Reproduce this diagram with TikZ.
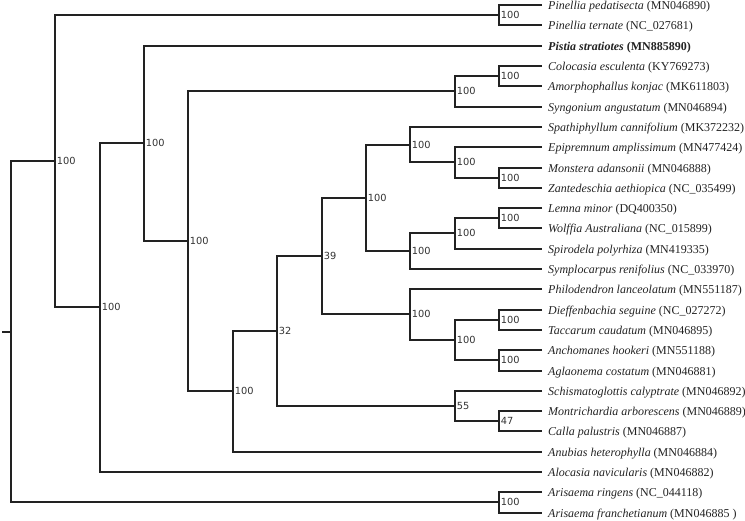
\documentclass[tikz,border=0pt]{standalone}
\usepackage{fontspec}
\setmainfont{Liberation Serif}
\newfontfamily\bootfont{DejaVu Sans}
\usetikzlibrary{positioning}
\definecolor{ink}{HTML}{222222}
\definecolor{graphite}{HTML}{333333}

\begin{document}
\begin{tikzpicture}[
  x=1pt, y=-1pt,
  branch/.style={draw=ink, line width=2pt},
  taxon/.style={anchor=west, inner xsep=6pt, inner ysep=0pt, text=ink,
                text height=10pt, text depth=1.6pt,
                font=\fontsize{12}{14}\selectfont},
  boot/.style={anchor=west, inner sep=1.6pt, text=graphite,
               font=\bootfont\fontsize{9.8}{11}\selectfont},
]
\useasboundingbox (0,0) rectangle (745,520);

% taxa
\node[taxon] (t01) at (542,5)   {\textit{Pinellia pedatisecta} (MN046890)};
\node[taxon] (t02) at (542,25)  {\textit{Pinellia ternate} (NC\_027681)};
\node[taxon] (t03) at (542,46)  {\bfseries\textit{Pistia stratiotes} (MN885890)};
\node[taxon] (t04) at (542,66)  {\textit{Colocasia esculenta} (KY769273)};
\node[taxon] (t05) at (542,86)  {\textit{Amorphophallus konjac} (MK611803)};
\node[taxon] (t06) at (542,107) {\textit{Syngonium angustatum} (MN046894)};
\node[taxon] (t07) at (542,127) {\textit{Spathiphyllum cannifolium} (MK372232)};
\node[taxon] (t08) at (542,147) {\textit{Epipremnum amplissimum} (MN477424)};
\node[taxon] (t09) at (542,168) {\textit{Monstera adansonii} (MN046888)};
\node[taxon] (t10) at (542,188) {\textit{Zantedeschia aethiopica} (NC\_035499)};
\node[taxon] (t11) at (542,208) {\textit{Lemna minor} (DQ400350)};
\node[taxon] (t12) at (542,228) {\textit{Wolffia Australiana} (NC\_015899)};
\node[taxon] (t13) at (542,249) {\textit{Spirodela polyrhiza} (MN419335)};
\node[taxon] (t14) at (542,269) {\textit{Symplocarpus renifolius} (NC\_033970)};
\node[taxon] (t15) at (542,289) {\textit{Philodendron lanceolatum} (MN551187)};
\node[taxon] (t16) at (542,310) {\textit{Dieffenbachia seguine} (NC\_027272)};
\node[taxon] (t17) at (542,330) {\textit{Taccarum caudatum} (MN046895)};
\node[taxon] (t18) at (542,350) {\textit{Anchomanes hookeri} (MN551188)};
\node[taxon] (t19) at (542,371) {\textit{Aglaonema costatum} (MN046881)};
\node[taxon] (t20) at (542,391) {\textit{Schismatoglottis calyptrate} (MN046892)};
\node[taxon] (t21) at (542,411) {\textit{Montrichardia arborescens} (MN046889)};
\node[taxon] (t22) at (542,431) {\textit{Calla palustris} (MN046887)};
\node[taxon] (t23) at (542,452) {\textit{Anubias heterophylla} (MN046884)};
\node[taxon] (t24) at (542,472) {\textit{Alocasia navicularis} (MN046882)};
\node[taxon] (t25) at (542,492) {\textit{Arisaema ringens} (NC\_044118)};
\node[taxon] (t26) at (542,513) {\textit{Arisaema franchetianum} (MN046885 )};

% internal nodes
\coordinate (pin)  at (499,15);
\coordinate (col2) at (499,76);
\coordinate (col)  at (455,91);
\coordinate (mz)   at (499,178);
\coordinate (epi)  at (455,162);
\coordinate (spa)  at (410,145);
\coordinate (lw)   at (499,218);
\coordinate (spi)  at (455,233);
\coordinate (sym)  at (410,251);
\coordinate (nH)   at (366,198);
\coordinate (dt)   at (499,320);
\coordinate (aa)   at (499,360);
\coordinate (nJ)   at (455,340);
\coordinate (nI)   at (410,314);
\coordinate (nG)   at (322,256);
\coordinate (mc)   at (499,421);
\coordinate (nK)   at (455,406);
\coordinate (nF)   at (277,331);
\coordinate (nE)   at (233,391);
\coordinate (nD)   at (188,241);
\coordinate (nC)   at (144,143);
\coordinate (nB)   at (100,307);
\coordinate (nA)   at (55,161);
\coordinate (ari)  at (499,502);
\coordinate (root) at (11,332);
\coordinate (stub) at (2,332);

% branches
\draw[branch] (t01.west) -| (pin) |- (t02.west);
\draw[branch] (t04.west) -| (col2) |- (t05.west);
\draw[branch] (col2) -| (col) |- (t06.west);
\draw[branch] (t09.west) -| (mz) |- (t10.west);
\draw[branch] (t08.west) -| (epi) |- (mz);
\draw[branch] (t07.west) -| (spa) |- (epi);
\draw[branch] (t11.west) -| (lw) |- (t12.west);
\draw[branch] (lw) -| (spi) |- (t13.west);
\draw[branch] (spi) -| (sym) |- (t14.west);
\draw[branch] (spa) -| (nH) |- (sym);
\draw[branch] (t16.west) -| (dt) |- (t17.west);
\draw[branch] (t18.west) -| (aa) |- (t19.west);
\draw[branch] (dt) -| (nJ) |- (aa);
\draw[branch] (t15.west) -| (nI) |- (nJ);
\draw[branch] (nH) -| (nG) |- (nI);
\draw[branch] (t21.west) -| (mc) |- (t22.west);
\draw[branch] (t20.west) -| (nK) |- (mc);
\draw[branch] (nG) -| (nF) |- (nK);
\draw[branch] (nF) -| (nE) |- (t23.west);
\draw[branch] (col) -| (nD) |- (nE);
\draw[branch] (t03.west) -| (nC) |- (nD);
\draw[branch] (nC) -| (nB) |- (t24.west);
\draw[branch] (pin) -| (nA) |- (nB);
\draw[branch] (t25.west) -| (ari) |- (t26.west);
\draw[branch] (nA) -| (root) |- (ari);
\draw[branch] (stub) -- (root);

% bootstrap support
\node[boot] (bpin)  at (pin)  {100};
\node[boot] (bcol2) at (col2) {100};
\node[boot] (bcol)  at (col)  {100};
\node[boot] (bmz)   at (mz)   {100};
\node[boot] (bepi)  at (epi)  {100};
\node[boot] (bspa)  at (spa)  {100};
\node[boot] (blw)   at (lw)   {100};
\node[boot] (bspi)  at (spi)  {100};
\node[boot] (bsym)  at (sym)  {100};
\node[boot] (bH)    at (nH)   {100};
\node[boot] (bdt)   at (dt)   {100};
\node[boot] (baa)   at (aa)   {100};
\node[boot] (bJ)    at (nJ)   {100};
\node[boot] (bI)    at (nI)   {100};
\node[boot] (bG)    at (nG)   {39};
\node[boot] (bmc)   at (mc)   {47};
\node[boot] (bK)    at (nK)   {55};
\node[boot] (bF)    at (nF)   {32};
\node[boot] (bE)    at (nE)   {100};
\node[boot] (bD)    at (nD)   {100};
\node[boot] (bC)    at (nC)   {100};
\node[boot] (bB)    at (nB)   {100};
\node[boot] (bA)    at (nA)   {100};
\node[boot] (bari)  at (ari)  {100};
\end{tikzpicture}
\end{document}
